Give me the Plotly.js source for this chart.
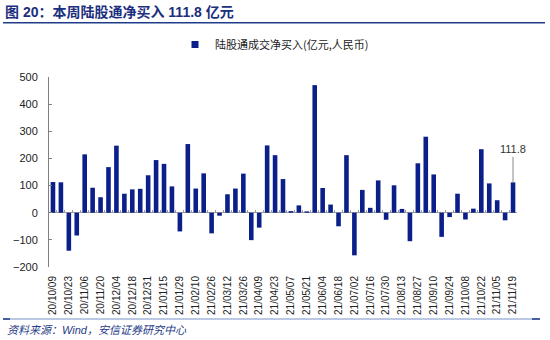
<!DOCTYPE html>
<html>
<head>
<meta charset="utf-8">
<script src="https://cdn.plot.ly/plotly-3.0.1.min.js"></script>
<style>html,body{margin:0;padding:0;background:#fff;}#chart{width:550px;height:340px;}</style>
</head>
<body>
<div id="chart"></div>
<script>
const dates = [
  '20/10/09','20/10/16','20/10/23','20/10/30','20/11/06','20/11/13','20/11/20','20/11/27',
  '20/12/04','20/12/11','20/12/18','20/12/25','20/12/31','21/01/08','21/01/15','21/01/22',
  '21/01/29','21/02/05','21/02/10','21/02/19','21/02/26','21/03/05','21/03/12','21/03/19',
  '21/03/26','21/04/02','21/04/09','21/04/16','21/04/23','21/04/30','21/05/07','21/05/14',
  '21/05/21','21/05/28','21/06/04','21/06/11','21/06/18','21/06/25','21/07/02','21/07/09',
  '21/07/16','21/07/23','21/07/30','21/08/06','21/08/13','21/08/20','21/08/27','21/09/03',
  '21/09/10','21/09/17','21/09/24','21/09/30','21/10/08','21/10/15','21/10/22','21/10/29',
  '21/11/05','21/11/12','21/11/19'
];
const netBuy = [
  113, 112, -140, -84, 215, 92, 57, 168, 247, 70,
  86, 88, 138, 194, 180, 97, -69, 253, 89, 145,
  -76, -11, 68, 89, 144, -101, -55, 248, 212, 124,
  6, 27, 5, 470, 91, 30, -50, 212, -157, 84,
  18, 119, -26, 101, 14, -105, 182, 280, 141, -89,
  -16, 70, -25, 15, 234, 108, 46, -28, 111.8
];
const tickLabels = [
  '20/10/09','20/10/23','20/11/06','20/11/20','20/12/04','20/12/18','20/12/31','21/01/15',
  '21/01/29','21/02/10','21/02/26','21/03/12','21/03/26','21/04/09','21/04/23','21/05/07',
  '21/05/21','21/06/04','21/06/18','21/07/02','21/07/16','21/07/30','21/08/13','21/08/27',
  '21/09/10','21/09/24','21/10/08','21/10/22','21/11/05','21/11/19'
];
const seriesName = '陆股通成交净买入(亿元,人民币)';
const titleText = '<b>图 20：本周陆股通净买入 111.8 亿元</b>';
const sourceText = '<i>资料来源：Wind，安信证券研究中心</i>';
const latestLabel = '111.8';

const barColor = '#0B1F8A';
const navy = '#1F3C88';
const FONT = 'Liberation Sans, Arial, Noto Sans CJK SC, sans-serif';

const W = 550, H = 340, L = 49, R = 33, T = 77, B = 73;
const pw = W - L - R, ph = H - T - B;
const px = v => (v - L) / pw;
const py = v => (H - B - v) / ph;
const catRange = [-0.5, dates.length - 0.5];

const traces = [
  {
    type: 'bar', x: dates, y: netBuy, name: seriesName,
    marker: {color: barColor, line: {width: 0}},
    showlegend: false, hoverinfo: 'x+y'
  },
  {
    type: 'scatter', mode: 'markers', x: [null], y: [null], name: seriesName,
    marker: {symbol: 'square', size: 7, color: barColor},
    showlegend: true, hoverinfo: 'skip'
  },
  {
    type: 'scatter', mode: 'markers', x: dates, y: dates.map(() => null),
    xaxis: 'x2', showlegend: false, hoverinfo: 'skip'
  }
];

const lastIdx = dates.length - 1;

const layout = {
  width: W, height: H,
  margin: {l: L, r: R, t: T, b: B, pad: 0},
  paper_bgcolor: '#fff', plot_bgcolor: '#fff',
  font: {family: FONT, size: 11, color: '#222'},
  bargap: 0.42,
  title: {
    text: titleText,
    font: {family: FONT, size: 14, color: '#1B2F7E'},
    xref: 'container', yref: 'container',
    x: 5 / W, xanchor: 'left', y: 1 - 12.5 / H, yanchor: 'middle'
  },
  showlegend: true,
  legend: {
    orientation: 'h', x: px(175), xanchor: 'left', y: py(44.5), yanchor: 'middle',
    font: {family: 'Noto Sans CJK SC, ' + FONT, size: 11, color: '#222'},
    bgcolor: 'rgba(0,0,0,0)', itemwidth: 30
  },
  xaxis: {
    type: 'category', range: catRange, autorange: false,
    tickmode: 'array', tickvals: tickLabels, ticktext: tickLabels,
    tickangle: -90, tickfont: {size: 10, color: '#222'},
    showline: false, ticks: '', showgrid: false, zeroline: false,
    ticklabelstandoff: 6, fixedrange: true
  },
  xaxis2: {
    type: 'category', matches: 'x', overlaying: 'x', anchor: 'free', position: 200 / 700,
    range: catRange, autorange: false,
    side: 'bottom', showticklabels: false, showline: false, showgrid: false, zeroline: false,
    tickmode: 'linear', tick0: 0, dtick: 1, tickson: 'boundaries',
    ticks: 'inside', ticklen: 3, tickcolor: '#9a9a9a', tickwidth: 1
  },
  yaxis: {
    range: [-200, 500], dtick: 100, tick0: 0,
    showline: true, linecolor: '#7f7f7f', linewidth: 1,
    ticks: 'inside', ticklen: 3, tickcolor: '#7f7f7f',
    showgrid: false, zeroline: true, zerolinecolor: '#9a9a9a', zerolinewidth: 1,
    tickfont: {size: 11, color: '#222'}, ticklabelstandoff: 8, fixedrange: true
  },
  shapes: [
    {type: 'line', xref: 'paper', yref: 'paper', x0: px(3), x1: px(545), y0: py(22.7), y1: py(22.7),
     line: {color: navy, width: 1.5}},
    {type: 'line', xref: 'paper', yref: 'paper', x0: px(3), x1: px(540), y0: py(319), y1: py(319),
     line: {color: '#A3B6DB', width: 1.5}},
    {type: 'line', xref: 'paper', yref: 'paper', x0: px(3), x1: px(10), y0: py(319), y1: py(319),
     line: {color: navy, width: 1.5}},
    {type: 'line', xref: 'paper', yref: 'paper', x0: px(532), x1: px(540), y0: py(319), y1: py(319),
     line: {color: navy, width: 1.5}}
  ],
  annotations: [
    {
      x: dates[lastIdx], y: netBuy[lastIdx], xref: 'x', yref: 'y',
      text: latestLabel, showarrow: true, arrowhead: 0, arrowwidth: 1, arrowcolor: '#8a8a8a',
      ax: 0, ay: -33, font: {size: 11, color: '#333'}
    },
    {
      xref: 'paper', yref: 'paper', x: px(5), y: py(329.5), xanchor: 'left', yanchor: 'middle',
      text: sourceText, showarrow: false,
      font: {family: FONT, size: 11, color: navy}
    }
  ]
};

Plotly.newPlot('chart', traces, layout, {displayModeBar: false, staticPlot: true});
</script>
</body>
</html>
